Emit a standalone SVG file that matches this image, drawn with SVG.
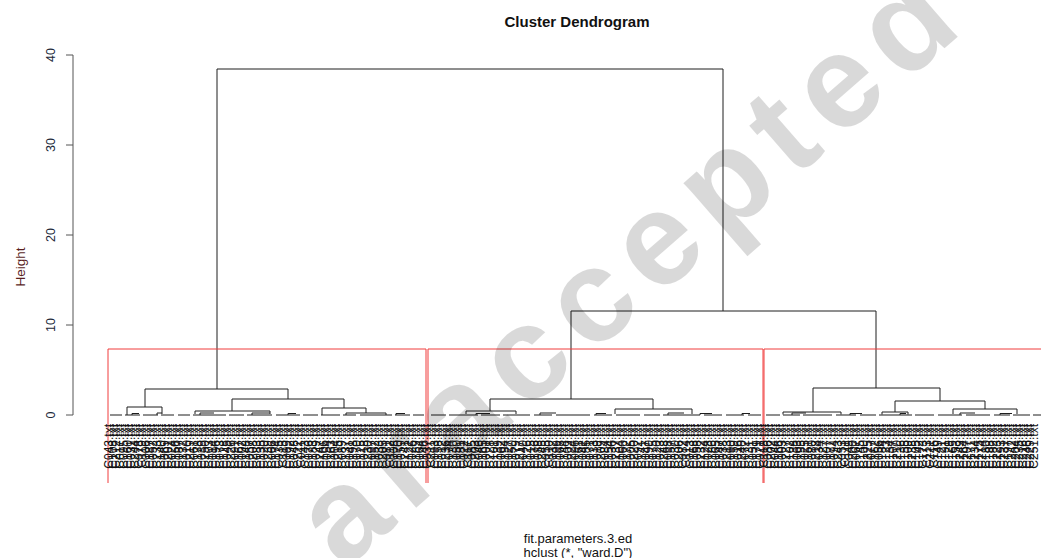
<svg xmlns="http://www.w3.org/2000/svg" width="1041" height="558" viewBox="0 0 1041 558">
<style>
.t{font-family:"Liberation Sans",Arial,sans-serif;fill:#111}
.ax{stroke:#555;stroke-width:1;fill:none}
.tk{font-family:"Liberation Sans",Arial,sans-serif;font-size:12.5px;fill:#22283a;text-anchor:middle}
.br{stroke:#1e1e1e;stroke-width:1;fill:none}
.rc{stroke:#f03c3c;stroke-width:1;fill:none}
.lb{font-family:"Liberation Sans",Arial,sans-serif;font-size:12px;fill:#111;text-anchor:end}
.wm{font-family:"Liberation Sans",Arial,sans-serif;font-weight:bold;font-size:132px;letter-spacing:14px;fill:#000;fill-opacity:0.15;text-anchor:end}
</style>
<rect width="1041" height="558" fill="#fff"/>
<g id="title"><text class="t" x="577" y="27" font-size="15" font-weight="bold" text-anchor="middle">Cluster Dendrogram</text></g>
<g id="yaxis">
<path class="ax" d="M73 55V415M66 55H73M66 145H73M66 235H73M66 325H73M66 415H73"/>
<text class="tk" transform="translate(55,55) rotate(-90)">40</text>
<text class="tk" transform="translate(55,145) rotate(-90)">30</text>
<text class="tk" transform="translate(55,235) rotate(-90)">20</text>
<text class="tk" transform="translate(55,325) rotate(-90)">10</text>
<text class="tk" transform="translate(55,415) rotate(-90)">0</text>
<text class="t" transform="translate(25,267) rotate(-90)" font-size="13.5" text-anchor="middle" style="fill:#5a1f1f">Height</text>
</g>
<g id="connectors">
<path class="br" d="M217 389V69H723V311"/>
<path class="br" d="M145 407V389H288V399"/>
<path class="br" d="M127 415V407H162V414"/>
<path class="br" d="M195 414V411H270V414M232 411V399H344V408M322 415V408H366V413M346 415V413H386V415"/>
<path class="br" d="M157 415V413H162"/>
<path class="br" d="M490 411V399H653V409M571 399V311H876V388M466 414V411H516V414M615 414V409H692V414"/>
<path class="br" d="M813 412V388H940V401M783 414.5V412H841V414.5M895 412V401H985V409M882 414.5V412H908V414.5M953 414V409H1017V414"/>
<path class="br" d="M110 415H122M125 415H140M143 415H158M161 415H174M178 415H190M193 415H226M229 415H244M247 415H272M276 415H300M303 415H318M321 415H340M343 415H356M360 415H392M395 415H410M413 415H424"/>
<path class="br" d="M431 415H446M449 415H478M481 415H500M503 415H530M534 415H552M556 415H590M594 415H612M616 415H640M644 415H660M663 415H700M704 415H722M726 415H744M748 415H761"/>
<path class="br" d="M766 415H780M783 415H800M803 415H832M836 415H856M860 415H876M879 415H912M915 415H934M938 415H962M966 415H990M994 415H1010M1013 415H1030M1033 415H1041"/>
<path class="br" d="M132 415V413.5H139M200 415V413H214M252 415V413H270M288 415V413.5H296M396 415V413.5H405M476 415V413.5H490M540 415V413H556M596 415V413.5H606M668 415V413H684M700 415V413.5H712M742 415V413.5H750M792 415V413H806M850 415V413.5H862M900 415V413.5H906M960 415V413H975M1000 415V413.5H1012"/>
</g>
<g id="clusters">
<path class="rc" d="M108 483V349H426V483"/>
<path class="rc" d="M428 483V349H763V483"/>
<path class="rc" d="M764 483V349H1041"/>
</g>
<g id="labels" transform="rotate(-90)">
<text class="lb" x="-424" y="113.0">C043.txt</text><text class="lb" x="-424" y="116.7">C108.txt</text><text class="lb" x="-424" y="120.4">C212.txt</text><text class="lb" x="-424" y="124.1">C017.txt</text><text class="lb" x="-424" y="127.8">C095.txt</text><text class="lb" x="-424" y="131.5">C160.txt</text><text class="lb" x="-424" y="135.2">C031.txt</text><text class="lb" x="-424" y="138.9">C244.txt</text><text class="lb" x="-424" y="142.6">C078.txt</text><text class="lb" x="-424" y="146.3">C119.txt</text>
<text class="lb" x="-424" y="150.0">C006.txt</text><text class="lb" x="-424" y="153.7">C187.txt</text><text class="lb" x="-424" y="157.4">C052.txt</text><text class="lb" x="-424" y="161.1">C233.txt</text><text class="lb" x="-424" y="164.8">C140.txt</text><text class="lb" x="-424" y="168.5">C069.txt</text><text class="lb" x="-424" y="172.2">C201.txt</text><text class="lb" x="-424" y="175.9">C024.txt</text><text class="lb" x="-424" y="179.6">C156.txt</text><text class="lb" x="-424" y="183.3">C087.txt</text>
<text class="lb" x="-424" y="187.0">C132.txt</text><text class="lb" x="-424" y="190.7">C010.txt</text><text class="lb" x="-424" y="194.4">C219.txt</text><text class="lb" x="-424" y="198.1">C061.txt</text><text class="lb" x="-424" y="201.8">C178.txt</text><text class="lb" x="-424" y="205.5">C039.txt</text><text class="lb" x="-424" y="209.2">C250.txt</text><text class="lb" x="-424" y="212.9">C103.txt</text><text class="lb" x="-424" y="216.6">C014.txt</text><text class="lb" x="-424" y="220.3">C196.txt</text>
<text class="lb" x="-424" y="224.0">C073.txt</text><text class="lb" x="-424" y="227.7">C128.txt</text><text class="lb" x="-424" y="231.4">C045.txt</text><text class="lb" x="-424" y="235.1">C226.txt</text><text class="lb" x="-424" y="238.8">C091.txt</text><text class="lb" x="-424" y="242.5">C167.txt</text><text class="lb" x="-424" y="246.2">C002.txt</text><text class="lb" x="-424" y="249.9">C148.txt</text><text class="lb" x="-424" y="253.6">C057.txt</text><text class="lb" x="-424" y="257.3">C208.txt</text>
<text class="lb" x="-424" y="261.0">C083.txt</text><text class="lb" x="-424" y="264.7">C135.txt</text><text class="lb" x="-424" y="268.4">C020.txt</text><text class="lb" x="-424" y="272.1">C239.txt</text><text class="lb" x="-424" y="275.8">C066.txt</text><text class="lb" x="-424" y="279.5">C174.txt</text><text class="lb" x="-424" y="283.2">C035.txt</text><text class="lb" x="-424" y="286.9">C115.txt</text><text class="lb" x="-424" y="290.6">C099.txt</text><text class="lb" x="-424" y="294.3">C192.txt</text>
<text class="lb" x="-424" y="298.0">C048.txt</text><text class="lb" x="-424" y="301.7">C222.txt</text><text class="lb" x="-424" y="305.4">C011.txt</text><text class="lb" x="-424" y="309.1">C143.txt</text><text class="lb" x="-424" y="312.8">C076.txt</text><text class="lb" x="-424" y="316.5">C183.txt</text><text class="lb" x="-424" y="320.2">C029.txt</text><text class="lb" x="-424" y="323.9">C247.txt</text><text class="lb" x="-424" y="327.6">C106.txt</text><text class="lb" x="-424" y="331.3">C054.txt</text>
<text class="lb" x="-424" y="335.0">C163.txt</text><text class="lb" x="-424" y="338.7">C004.txt</text><text class="lb" x="-424" y="342.4">C215.txt</text><text class="lb" x="-424" y="346.1">C089.txt</text><text class="lb" x="-424" y="349.8">C137.txt</text><text class="lb" x="-424" y="353.5">C041.txt</text><text class="lb" x="-424" y="357.2">C198.txt</text><text class="lb" x="-424" y="360.9">C070.txt</text><text class="lb" x="-424" y="364.6">C125.txt</text><text class="lb" x="-424" y="368.3">C018.txt</text>
<text class="lb" x="-424" y="372.0">C230.txt</text><text class="lb" x="-424" y="375.7">C097.txt</text><text class="lb" x="-424" y="379.4">C152.txt</text><text class="lb" x="-424" y="383.1">C033.txt</text><text class="lb" x="-424" y="386.8">C205.txt</text><text class="lb" x="-424" y="390.5">C081.txt</text><text class="lb" x="-424" y="394.2">C112.txt</text><text class="lb" x="-424" y="397.9">C008.txt</text><text class="lb" x="-424" y="401.6">C170.txt</text><text class="lb" x="-424" y="405.3">C059.txt</text>
<text class="lb" x="-424" y="409.0">C241.txt</text><text class="lb" x="-424" y="412.7">C122.txt</text><text class="lb" x="-424" y="416.4">C026.txt</text><text class="lb" x="-424" y="420.1">C189.txt</text><text class="lb" x="-424" y="423.8">C064.txt</text><text class="lb" x="-424" y="427.5">C146.txt</text><text class="lb" x="-424" y="431.2">C037.txt</text><text class="lb" x="-424" y="434.9">C211.txt</text><text class="lb" x="-424" y="438.6">C093.txt</text><text class="lb" x="-424" y="442.3">C158.txt</text>
<text class="lb" x="-424" y="446.0">C012.txt</text><text class="lb" x="-424" y="449.7">C236.txt</text><text class="lb" x="-424" y="453.4">C074.txt</text><text class="lb" x="-424" y="457.1">C130.txt</text><text class="lb" x="-424" y="460.8">C050.txt</text><text class="lb" x="-424" y="464.5">C181.txt</text><text class="lb" x="-424" y="468.2">C022.txt</text><text class="lb" x="-424" y="471.9">C117.txt</text><text class="lb" x="-424" y="475.6">C085.txt</text><text class="lb" x="-424" y="479.3">C203.txt</text>
<text class="lb" x="-424" y="483.0">C046.txt</text><text class="lb" x="-424" y="486.7">C165.txt</text><text class="lb" x="-424" y="490.4">C001.txt</text><text class="lb" x="-424" y="494.1">C228.txt</text><text class="lb" x="-424" y="497.8">C101.txt</text><text class="lb" x="-424" y="501.5">C139.txt</text><text class="lb" x="-424" y="505.2">C062.txt</text><text class="lb" x="-424" y="508.9">C194.txt</text><text class="lb" x="-424" y="512.6">C027.txt</text><text class="lb" x="-424" y="516.3">C150.txt</text>
<text class="lb" x="-424" y="520.0">C079.txt</text><text class="lb" x="-424" y="523.7">C217.txt</text><text class="lb" x="-424" y="527.4">C040.txt</text><text class="lb" x="-424" y="531.1">C126.txt</text><text class="lb" x="-424" y="534.8">C015.txt</text><text class="lb" x="-424" y="538.5">C176.txt</text><text class="lb" x="-424" y="542.2">C088.txt</text><text class="lb" x="-424" y="545.9">C245.txt</text><text class="lb" x="-424" y="549.6">C055.txt</text><text class="lb" x="-424" y="553.3">C110.txt</text>
<text class="lb" x="-424" y="557.0">C032.txt</text><text class="lb" x="-424" y="560.7">C199.txt</text><text class="lb" x="-424" y="564.4">C068.txt</text><text class="lb" x="-424" y="568.1">C144.txt</text><text class="lb" x="-424" y="571.8">C009.txt</text><text class="lb" x="-424" y="575.5">C224.txt</text><text class="lb" x="-424" y="579.2">C096.txt</text><text class="lb" x="-424" y="582.9">C161.txt</text><text class="lb" x="-424" y="586.6">C042.txt</text><text class="lb" x="-424" y="590.3">C185.txt</text>
<text class="lb" x="-424" y="594.0">C071.txt</text><text class="lb" x="-424" y="597.7">C133.txt</text><text class="lb" x="-424" y="601.4">C019.txt</text><text class="lb" x="-424" y="605.1">C209.txt</text><text class="lb" x="-424" y="608.8">C084.txt</text><text class="lb" x="-424" y="612.5">C154.txt</text><text class="lb" x="-424" y="616.2">C036.txt</text><text class="lb" x="-424" y="619.9">C237.txt</text><text class="lb" x="-424" y="623.6">C104.txt</text><text class="lb" x="-424" y="627.3">C060.txt</text>
<text class="lb" x="-424" y="631.0">C172.txt</text><text class="lb" x="-424" y="634.7">C005.txt</text><text class="lb" x="-424" y="638.4">C220.txt</text><text class="lb" x="-424" y="642.1">C092.txt</text><text class="lb" x="-424" y="645.8">C141.txt</text><text class="lb" x="-424" y="649.5">C047.txt</text><text class="lb" x="-424" y="653.2">C190.txt</text><text class="lb" x="-424" y="656.9">C075.txt</text><text class="lb" x="-424" y="660.6">C120.txt</text><text class="lb" x="-424" y="664.3">C023.txt</text>
<text class="lb" x="-424" y="668.0">C248.txt</text><text class="lb" x="-424" y="671.7">C098.txt</text><text class="lb" x="-424" y="675.4">C157.txt</text><text class="lb" x="-424" y="679.1">C030.txt</text><text class="lb" x="-424" y="682.8">C206.txt</text><text class="lb" x="-424" y="686.5">C082.txt</text><text class="lb" x="-424" y="690.2">C114.txt</text><text class="lb" x="-424" y="693.9">C013.txt</text><text class="lb" x="-424" y="697.6">C168.txt</text><text class="lb" x="-424" y="701.3">C058.txt</text>
<text class="lb" x="-424" y="705.0">C232.txt</text><text class="lb" x="-424" y="708.7">C124.txt</text><text class="lb" x="-424" y="712.4">C028.txt</text><text class="lb" x="-424" y="716.1">C186.txt</text><text class="lb" x="-424" y="719.8">C065.txt</text><text class="lb" x="-424" y="723.5">C147.txt</text><text class="lb" x="-424" y="727.2">C038.txt</text><text class="lb" x="-424" y="730.9">C213.txt</text><text class="lb" x="-424" y="734.6">C090.txt</text><text class="lb" x="-424" y="738.3">C159.txt</text>
<text class="lb" x="-424" y="742.0">C016.txt</text><text class="lb" x="-424" y="745.7">C240.txt</text><text class="lb" x="-424" y="749.4">C072.txt</text><text class="lb" x="-424" y="753.1">C131.txt</text><text class="lb" x="-424" y="756.8">C051.txt</text><text class="lb" x="-424" y="760.5">C179.txt</text><text class="lb" x="-424" y="764.2">C021.txt</text><text class="lb" x="-424" y="767.9">C118.txt</text><text class="lb" x="-424" y="771.6">C086.txt</text><text class="lb" x="-424" y="775.3">C202.txt</text>
<text class="lb" x="-424" y="779.0">C044.txt</text><text class="lb" x="-424" y="782.7">C166.txt</text><text class="lb" x="-424" y="786.4">C003.txt</text><text class="lb" x="-424" y="790.1">C227.txt</text><text class="lb" x="-424" y="793.8">C102.txt</text><text class="lb" x="-424" y="797.5">C138.txt</text><text class="lb" x="-424" y="801.2">C063.txt</text><text class="lb" x="-424" y="804.9">C195.txt</text><text class="lb" x="-424" y="808.6">C025.txt</text><text class="lb" x="-424" y="812.3">C151.txt</text>
<text class="lb" x="-424" y="816.0">C080.txt</text><text class="lb" x="-424" y="819.7">C218.txt</text><text class="lb" x="-424" y="823.4">C034.txt</text><text class="lb" x="-424" y="827.1">C127.txt</text><text class="lb" x="-424" y="830.8">C007.txt</text><text class="lb" x="-424" y="834.5">C177.txt</text><text class="lb" x="-424" y="838.2">C094.txt</text><text class="lb" x="-424" y="841.9">C243.txt</text><text class="lb" x="-424" y="845.6">C053.txt</text><text class="lb" x="-424" y="849.3">C111.txt</text>
<text class="lb" x="-424" y="853.0">C049.txt</text><text class="lb" x="-424" y="856.7">C200.txt</text><text class="lb" x="-424" y="860.4">C067.txt</text><text class="lb" x="-424" y="864.1">C145.txt</text><text class="lb" x="-424" y="867.8">C100.txt</text><text class="lb" x="-424" y="871.5">C225.txt</text><text class="lb" x="-424" y="875.2">C077.txt</text><text class="lb" x="-424" y="878.9">C162.txt</text><text class="lb" x="-424" y="882.6">C056.txt</text><text class="lb" x="-424" y="886.3">C184.txt</text>
<text class="lb" x="-424" y="890.0">C123.txt</text><text class="lb" x="-424" y="893.7">C134.txt</text><text class="lb" x="-424" y="897.4">C107.txt</text><text class="lb" x="-424" y="901.1">C210.txt</text><text class="lb" x="-424" y="904.8">C136.txt</text><text class="lb" x="-424" y="908.5">C155.txt</text><text class="lb" x="-424" y="912.2">C109.txt</text><text class="lb" x="-424" y="915.9">C238.txt</text><text class="lb" x="-424" y="919.6">C105.txt</text><text class="lb" x="-424" y="923.3">C142.txt</text>
<text class="lb" x="-424" y="927.0">C173.txt</text><text class="lb" x="-424" y="930.7">C113.txt</text><text class="lb" x="-424" y="934.4">C221.txt</text><text class="lb" x="-424" y="938.1">C116.txt</text><text class="lb" x="-424" y="941.8">C149.txt</text><text class="lb" x="-424" y="945.5">C121.txt</text><text class="lb" x="-424" y="949.2">C191.txt</text><text class="lb" x="-424" y="952.9">C129.txt</text><text class="lb" x="-424" y="956.6">C169.txt</text><text class="lb" x="-424" y="960.3">C153.txt</text>
<text class="lb" x="-424" y="964.0">C249.txt</text><text class="lb" x="-424" y="967.7">C164.txt</text><text class="lb" x="-424" y="971.4">C207.txt</text><text class="lb" x="-424" y="975.1">C171.txt</text><text class="lb" x="-424" y="978.8">C234.txt</text><text class="lb" x="-424" y="982.5">C175.txt</text><text class="lb" x="-424" y="986.2">C214.txt</text><text class="lb" x="-424" y="989.9">C180.txt</text><text class="lb" x="-424" y="993.6">C188.txt</text><text class="lb" x="-424" y="997.3">C182.txt</text>
<text class="lb" x="-424" y="1001.0">C223.txt</text><text class="lb" x="-424" y="1004.7">C193.txt</text><text class="lb" x="-424" y="1008.4">C231.txt</text><text class="lb" x="-424" y="1012.1">C197.txt</text><text class="lb" x="-424" y="1015.8">C242.txt</text><text class="lb" x="-424" y="1019.5">C204.txt</text><text class="lb" x="-424" y="1023.2">C235.txt</text><text class="lb" x="-424" y="1026.9">C216.txt</text><text class="lb" x="-424" y="1030.6">C246.txt</text><text class="lb" x="-424" y="1034.3">C229.txt</text>
<text class="lb" x="-424" y="1038.0">C251.txt</text>
</g>
<g id="xlabel">
<text class="t" x="578" y="543" font-size="13" text-anchor="middle">fit.parameters.3.ed</text>
<text class="t" x="578" y="557" font-size="13" text-anchor="middle">hclust (*, "ward.D")</text>
</g>
<g id="watermark"><text class="wm" transform="translate(975,22) rotate(-41)">araccepted</text></g>
</svg>
